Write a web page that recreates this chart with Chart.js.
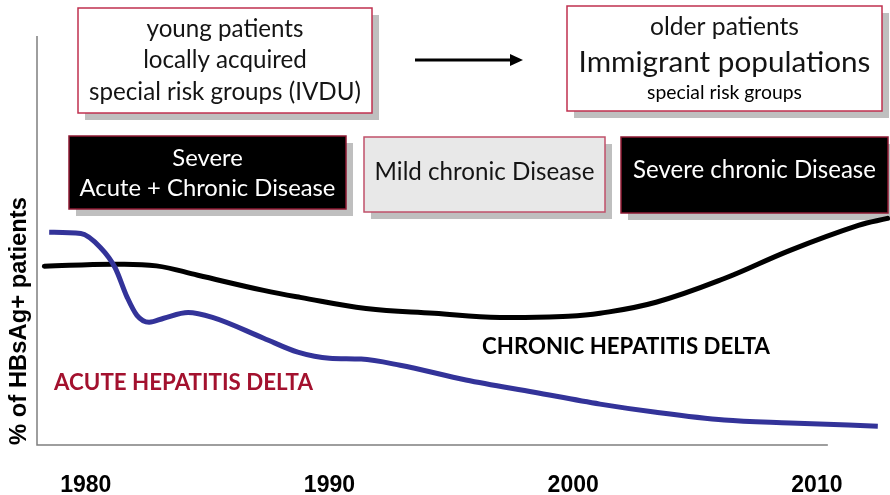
<!DOCTYPE html>
<html><head><meta charset="utf-8">
<script src="https://cdn.jsdelivr.net/npm/chart.js@4"></script>
<style>html,body{margin:0;padding:0;background:#fff}#wrap{width:890px;height:495px}</style>
</head><body><div id="wrap"><canvas id="c" width="890" height="495"></canvas></div>
<script>
// ---- data (arbitrary % units) ----
const tickYears = [1980, 1990, 2000, 2010];
const chronicYears  = [1978.3, 1981.1, 1982.9, 1984.6, 1987.3, 1988.8, 1991.5, 1994.3, 1997.0, 1999.8, 2001.1, 2003.4, 2006.2, 2008.9, 2011.7, 2012.9];
const chronicValues = [43.7, 44.2, 43.8, 41.5, 37.8, 36.1, 33.4, 32.2, 31.2, 31.5, 32.2, 34.9, 40.7, 47.6, 53.7, 55.4];
const acuteYears  = [1978.5, 1979.8, 1980.6, 1981.2, 1981.7, 1982.1, 1982.6, 1983.2, 1984.2, 1985.2, 1987.3, 1988.7, 1990.0, 1991.3, 1992.9, 1995.6, 1998.4, 2001.1, 2003.4, 2006.2, 2008.9, 2012.5];
const acuteValues = [52.0, 51.7, 48.3, 43.4, 36.1, 31.7, 30.0, 31.0, 32.4, 31.2, 26.1, 22.7, 21.2, 21.0, 19.5, 15.9, 12.9, 10.0, 8.0, 6.1, 5.4, 4.6];
const yAxisTitle = '% of HBsAg+ patients';
const acuteLabel = 'ACUTE HEPATITIS DELTA';
const chronicLabel = 'CHRONIC HEPATITIS DELTA';
const earlyGroups = ['young patients', 'locally acquired', 'special risk groups (IVDU)'];
const lateGroups = ['older patients', 'Immigrant populations', 'special risk groups'];
const phaseSevere = ['Severe', 'Acute + Chronic Disease'];
const phaseMild = ['Mild chronic Disease'];
const phaseLate = ['Severe chronic Disease'];

const CAL = 'Lato, "Open Sans", sans-serif';
const ARIAL = '"Liberation Sans", Arial, sans-serif';

function fitSize(ctx, text, width, weight, family) {
  ctx.font = weight + ' 100px ' + family;
  return 100 * width / ctx.measureText(text).width;
}
function drawBox(ctx, x, y, w, h, fill, border) {
  ctx.save();
  ctx.fillStyle = '#bfbfbf';
  ctx.fillRect(x + 7, y + 7, w, h);
  ctx.fillStyle = fill;
  ctx.fillRect(x, y, w, h);
  ctx.strokeStyle = border;
  ctx.lineWidth = 1.5;
  ctx.strokeRect(x, y, w, h);
  ctx.restore();
}
function drawText(ctx, text, cx, cy, size, weight, family, color) {
  ctx.save();
  ctx.font = weight + ' ' + size + 'px ' + family;
  ctx.fillStyle = color;
  ctx.textAlign = 'center';
  ctx.textBaseline = 'middle';
  ctx.fillText(text, cx, cy);
  ctx.restore();
}

const decor = {
  id: 'decor',
  beforeDatasetsDraw(chart) {
    const ctx = chart.ctx;
    const xs = chart.scales.x, ys = chart.scales.y;
    const a = chart.chartArea;
    // axes
    ctx.save();
    ctx.strokeStyle = '#7f7f7f';
    ctx.lineWidth = 1.5;
    ctx.beginPath();
    ctx.moveTo(a.left, a.top);
    ctx.lineTo(a.left, ys.getPixelForValue(0));
    ctx.lineTo(xs.getPixelForValue(2010.45), ys.getPixelForValue(0));
    ctx.stroke();
    ctx.restore();

    const txt = '#141414';
    // top boxes
    drawBox(ctx, 78, 8, 294, 105, '#ffffff', '#c0304f');
    let s = fitSize(ctx, earlyGroups[2], 272, '', CAL);
    drawText(ctx, earlyGroups[0], 225, 29, s, '', CAL, txt);
    drawText(ctx, earlyGroups[1], 225, 60, s, '', CAL, txt);
    drawText(ctx, earlyGroups[2], 225, 92, s, '', CAL, txt);

    // arrow
    ctx.save();
    ctx.strokeStyle = '#000'; ctx.fillStyle = '#000'; ctx.lineWidth = 3;
    ctx.beginPath(); ctx.moveTo(415, 60); ctx.lineTo(512, 60); ctx.stroke();
    ctx.beginPath(); ctx.moveTo(523, 60); ctx.lineTo(510, 54); ctx.lineTo(510, 66); ctx.closePath(); ctx.fill();
    ctx.restore();

    drawBox(ctx, 567, 6, 315, 105, '#ffffff', '#c0304f');
    drawText(ctx, lateGroups[0], 724.5, 27, fitSize(ctx, lateGroups[0], 149, '', CAL), '', CAL, txt);
    drawText(ctx, lateGroups[1], 724.5, 62, fitSize(ctx, lateGroups[1], 292, '', CAL), '', CAL, txt);
    drawText(ctx, lateGroups[2], 724.5, 93, fitSize(ctx, lateGroups[2], 155, '', CAL), '', CAL, '#000');

    // phase boxes
    drawBox(ctx, 69, 136, 277, 73, '#000000', '#8e1a33');
    s = fitSize(ctx, phaseSevere[1], 256, '', CAL);
    drawText(ctx, phaseSevere[0], 207.5, 158, s, '', CAL, '#ffffff');
    drawText(ctx, phaseSevere[1], 207.5, 188, s, '', CAL, '#ffffff');

    drawBox(ctx, 364, 137, 241, 75, '#e8e8e8', '#c0506a');
    drawText(ctx, phaseMild[0], 484.5, 172, fitSize(ctx, phaseMild[0], 220, '', CAL), '', CAL, txt);

    drawBox(ctx, 621, 137, 267, 76, '#000000', '#8e1a33');
    drawText(ctx, phaseLate[0], 754.5, 170, fitSize(ctx, phaseLate[0], 243, '', CAL), '', CAL, '#ffffff');

    // series labels
    drawText(ctx, acuteLabel, 183.5, 383, fitSize(ctx, acuteLabel, 259, 'bold', CAL), 'bold', CAL, '#a3112e');
    drawText(ctx, chronicLabel, 626, 347, fitSize(ctx, chronicLabel, 288, 'bold', CAL), 'bold', CAL, '#000000');

    // y axis title
    ctx.save();
    ctx.translate(19, 321);
    ctx.rotate(-Math.PI / 2);
    drawText(ctx, yAxisTitle, 0, 0, fitSize(ctx, yAxisTitle, 248, 'bold', ARIAL), 'bold', ARIAL, '#000');
    ctx.restore();
  }
};

const toPts = (xs, ys) => xs.map((x, i) => ({ x: x, y: ys[i] }));

new Chart(document.getElementById('c'), {
  type: 'line',
  data: {
    datasets: [
      { label: 'Acute hepatitis delta', data: toPts(acuteYears, acuteValues), borderColor: '#333399', borderWidth: 5,
        pointRadius: 0, cubicInterpolationMode: 'monotone', fill: false, order: 0, borderCapStyle: 'butt', clip: false },
      { label: 'Chronic hepatitis delta', data: toPts(chronicYears, chronicValues), borderColor: '#000000', borderWidth: 5,
        pointRadius: 0, tension: 0.4, fill: false, order: 1, borderCapStyle: 'round', clip: false }
    ]
  },
  options: {
    responsive: false,
    animation: false,
    layout: { padding: { left: 37, top: 36, right: 0, bottom: 0 } },
    plugins: { legend: { display: false }, tooltip: { enabled: false } },
    scales: {
      x: {
        type: 'linear', min: 1978, max: 2013,
        grid: { display: false, drawTicks: false },
        border: { display: false },
        afterBuildTicks: (sc) => { sc.ticks = tickYears.map(v => ({ value: v })); },
        afterFit: (sc) => { sc.height = 50; },
        ticks: { padding: 27, color: '#000', maxRotation: 0, autoSkip: false,
          font: { family: ARIAL, weight: 'bold', size: 23 },
          callback: (v) => String(v) }
      },
      y: { display: false, min: 0, max: 100 }
    }
  },
  plugins: [decor]
});
</script>
</body></html>
